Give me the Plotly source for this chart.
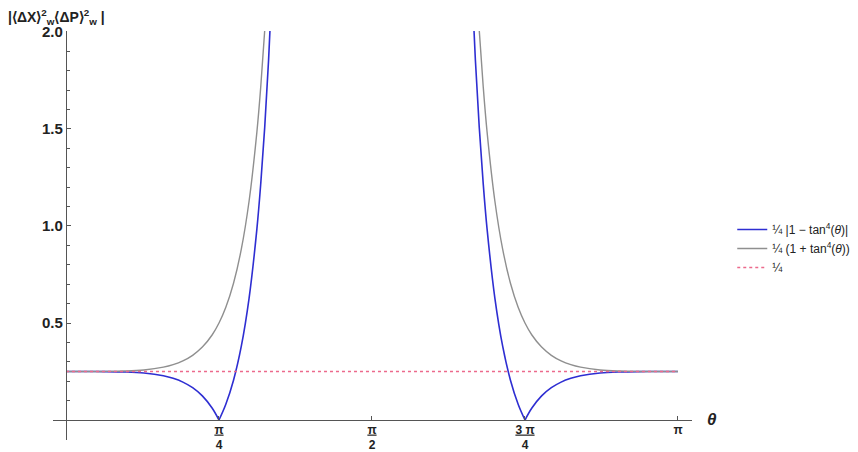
import plotly.graph_objs as go

# theta samples (rad) and values; None = gap between branches
theta_blue = [0, 0.1, 0.2, 0.3, 0.4, 0.5, 0.55, 0.6, 0.65, 0.7, 0.75, 0.7854, None,
              0.7854, 0.82, 0.86, 0.9, 0.94, 0.98, 1.0, 1.02, 1.04, 1.06, None,
              2.0816, 2.1016, 2.1216, 2.1416, 2.1616, 2.2016, 2.2416, 2.2816, 2.3216, 2.3562, None,
              2.3562, 2.3916, 2.4416, 2.4916, 2.5416, 2.5916, 2.6416, 2.7416, 2.8416, 2.9416, 3.0416, 3.1416]
val_blue = [0.25, 0.25, 0.2496, 0.2477, 0.2420, 0.2277, 0.2147, 0.1952, 0.1665, 0.1242, 0.0617, 0.0, None,
            0.0, 0.0798, 0.2051, 0.3804, 0.6287, 0.9853, 1.2208, 1.5067, 1.8559, 2.2848, None,
            2.2848, 1.8559, 1.5067, 1.2208, 0.9853, 0.6287, 0.3804, 0.2051, 0.0798, 0.0, None,
            0.0, 0.0617, 0.1242, 0.1665, 0.1952, 0.2147, 0.2277, 0.2420, 0.2477, 0.2496, 0.25, 0.25]

theta_gray = [0, 0.1, 0.2, 0.3, 0.4, 0.5, 0.55, 0.6, 0.65, 0.7, 0.75, 0.7854, 0.82, 0.86,
              0.9, 0.94, 0.98, 1.0, 1.02, 1.04, None,
              2.1016, 2.1216, 2.1416, 2.1616, 2.2016, 2.2416, 2.2816, 2.3216, 2.3562, 2.3916,
              2.4416, 2.4916, 2.5416, 2.5916, 2.6416, 2.7416, 2.8416, 2.9416, 3.0416, 3.1416]
val_gray = [0.25, 0.25, 0.2504, 0.2523, 0.2580, 0.2723, 0.2853, 0.3048, 0.3335, 0.3758, 0.4383, 0.5, 0.5798, 0.7051,
            0.8804, 1.1287, 1.4853, 1.7208, 2.0067, 2.3559, None,
            2.3559, 2.0067, 1.7208, 1.4853, 1.1287, 0.8804, 0.7051, 0.5798, 0.5, 0.4383,
            0.3758, 0.3335, 0.3048, 0.2853, 0.2723, 0.2580, 0.2523, 0.2504, 0.25, 0.25]

theta_const = [0, 3.1416]
val_const = [0.25, 0.25]

x_tickvals = [0.7854, 1.5708, 2.3562, 3.1416]
x_ticktext = ['<u>π</u><br>4', '<u>π</u><br>2', '<u>3 π</u><br>4', 'π']
y_tickvals = [0.5, 1.0, 1.5, 2.0]

font = 'Liberation Sans, Arial, sans-serif'

fig = go.Figure()

fig.add_trace(go.Scatter(
    x=theta_blue, y=val_blue, mode='lines',
    line=dict(color='#2e2ed2', width=1.6, shape='spline'),
    name='¼ |1 − tan<sup>4</sup>(<i>θ</i>)|'
))
fig.add_trace(go.Scatter(
    x=theta_gray, y=val_gray, mode='lines',
    line=dict(color='#8f8f8f', width=1.4, shape='spline'),
    name='¼ (1 + tan<sup>4</sup>(<i>θ</i>))'
))
fig.add_trace(go.Scatter(
    x=theta_const, y=val_const, mode='lines',
    line=dict(color='#ec6a8c', width=1.5, dash='dot'),
    name='¼'
))

# page body adds an 8px offset, so the figure is 8px smaller and margins shifted
fig.update_layout(
    width=850, height=444,
    paper_bgcolor='white',
    plot_bgcolor='white',
    margin=dict(l=45, r=166, t=23, b=12, autoexpand=False),
    font=dict(family=font, color='#222'),
    showlegend=True,
    legend=dict(x=1.063, y=0.55, xanchor='left', yanchor='top',
                font=dict(size=12, color='#222'), tracegroupgap=0,
                itemwidth=30, bgcolor='rgba(0,0,0,0)'),
    xaxis=dict(
        range=[-0.0667, 3.2136], automargin=False,
        showgrid=False, zeroline=False,
        showline=True, linecolor='#555', linewidth=1.3,
        anchor='free', position=0.0489,
        tickmode='array', tickvals=x_tickvals, ticktext=x_ticktext,
        ticks='inside', ticklen=4, tickcolor='#555',
        ticklabelstandoff=-2,
        tickfont=dict(size=12, weight='bold', color='#222'),
    ),
    yaxis=dict(
        range=[-0.103, 2.005], automargin=False,
        showgrid=False, zeroline=False,
        showline=True, linecolor='#555', linewidth=1.3,
        anchor='free', position=0.0204,
        tickmode='array', tickvals=y_tickvals, tickformat='.1f',
        ticks='inside', ticklen=4, tickcolor='#555',
        tickfont=dict(size=15, weight='bold', color='#222'),
        minor=dict(dtick=0.1, tick0=0, ticks='inside', ticklen=2.5, tickcolor='#555'),
    ),
)

fig.add_annotation(
    xref='paper', yref='paper', x=-0.073, y=1.006, xanchor='left', yanchor='bottom',
    text='<b>|⟨ΔX⟩<sup>2</sup><sub>w</sub>⟨ΔP⟩<sup>2</sup><sub>w</sub> |</b>',
    showarrow=False, font=dict(size=14, color='#222')
)
fig.add_annotation(
    xref='paper', yref='paper', x=1.02, y=0.049, xanchor='left', yanchor='middle',
    text='<b><i>θ</i></b>',
    showarrow=False, font=dict(size=17, color='#222')
)

fig.write_html("out.html")
